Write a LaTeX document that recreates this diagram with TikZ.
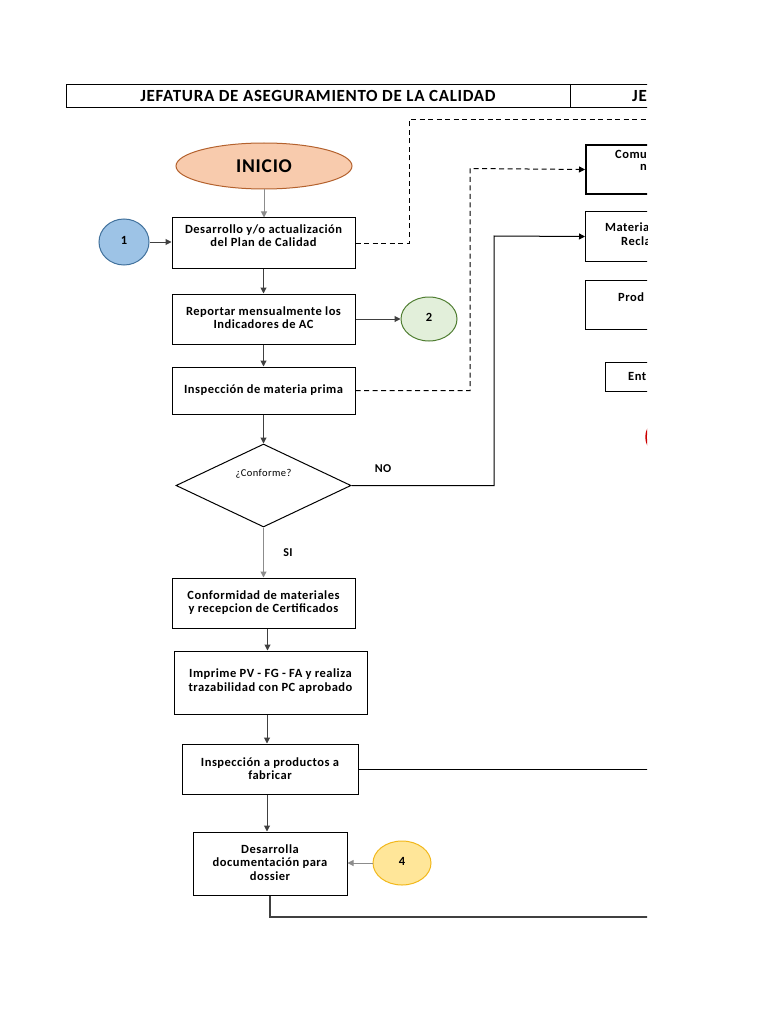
\documentclass[tikz,border=0pt]{standalone}
\usepackage{fontspec}
\setmainfont{Carlito}[LetterSpace=4]
\usetikzlibrary{arrows.meta,shapes.geometric}
\definecolor{salmon}{HTML}{F8CBAD}
\definecolor{salmonb}{HTML}{B4622E}
\definecolor{lblue}{HTML}{9DC3E6}
\definecolor{dblue}{HTML}{41719C}
\definecolor{lgreen}{HTML}{E2EFDA}
\definecolor{dgreen}{HTML}{507E32}
\definecolor{lyellow}{HTML}{FFE699}
\definecolor{dyellow}{HTML}{F2B81C}
\definecolor{conn}{HTML}{404040}
\definecolor{lconn}{HTML}{8C8C8C}
\tikzset{
  box/.style={draw=black, line width=1pt, inner sep=0pt},
  txt/.style={align=center, inner sep=0pt, font=\bfseries\fontsize{12.5}{13.4}\selectfont},
  tip/.style={-{Triangle[length=6pt,width=6pt]}},
  arr/.style={tip, draw=conn, line width=1pt},
  larr/.style={tip, draw=lconn, line width=1pt},
  dsh/.style={draw=black, line width=1pt, dash pattern=on 5pt off 3.5pt},
  circ/.style={ellipse, line width=1pt, inner sep=0pt, font=\bfseries\fontsize{12.5}{14}\selectfont},
}
\begin{document}
\begin{tikzpicture}[x=1pt,y=-1pt]
\useasboundingbox (0,0) rectangle (768,1024);
\begin{scope}
\clip (0,0) rectangle (647,1024);
% header
\node[box, minimum width=634pt, minimum height=23pt, anchor=north west] (hdr) at (66,84) {};
\draw[line width=1pt] (570,84) -- (570,107);
\node[inner sep=0pt, font=\bfseries\fontsize{17}{18}\selectfont] (h1) at (318,96) {JEFATURA DE ASEGURAMIENTO DE LA CALIDAD};
\node[inner sep=0pt, anchor=west, font=\bfseries\fontsize{17}{18}\selectfont] (h2) at (632,96) {JE};

% start
\node[ellipse, draw=salmonb, fill=salmon, line width=1pt, minimum width=176pt, minimum height=46pt, inner sep=0pt, font=\bfseries\fontsize{19.5}{21}\selectfont] (ini) at (264,166) {INICIO};

% left column boxes
\node[box, minimum width=183pt, minimum height=50pt] (b1) at (263.5,243) {};
\node[txt] (t1) at (263.5,235.5) {Desarrollo y/o actualización\\del Plan de Calidad};
\node[box, minimum width=183pt, minimum height=50pt] (b2) at (263.5,319) {};
\node[txt] (t2) at (263.5,317.5) {Reportar mensualmente los\\Indicadores de AC};
\node[box, minimum width=183pt, minimum height=47pt] (b3) at (263.5,390.5) {};
\node[txt] (t3) at (263.5,390) {Inspección de materia prima};

\node[diamond, draw=black, line width=1pt, minimum width=175pt, minimum height=83pt, inner sep=0pt] (dia) at (263.5,485.5) {};
\node[inner sep=0pt, font=\fontsize{10.5}{12}\selectfont] (tc) at (263.5,474) {¿Conforme?};

\node[box, minimum width=183pt, minimum height=50pt] (b4) at (263.5,603) {};
\node[txt] (t4) at (263.5,602.5) {Conformidad de materiales\\y recepcion de Certificados};
\node[box, minimum width=193pt, minimum height=63pt] (b5) at (270.5,682.5) {};
\node[txt] (t5) at (270.5,681) {Imprime PV - FG - FA y realiza\\trazabilidad con PC aprobado};
\node[box, minimum width=176pt, minimum height=50pt] (b6) at (270,769) {};
\node[txt] (t6) at (270,768.5) {Inspección a productos a\\fabricar};
\node[box, minimum width=154pt, minimum height=63pt] (b7) at (270,863.5) {};
\node[txt] (t7) at (270,862.5) {Desarrolla\\documentación para\\dossier};

% connectors circles
\node[circ, draw=dblue, fill=lblue, minimum width=50pt, minimum height=46pt] (c1) at (124,242) {\raisebox{3.5pt}{1}};
\node[circ, draw=dgreen, fill=lgreen, minimum width=56pt, minimum height=44pt] (c2) at (429,319) {\raisebox{4pt}{2}};
\node[circ, draw=dyellow, fill=lyellow, minimum width=58pt, minimum height=44pt] (c4) at (402,863) {\raisebox{4pt}{4}};
\node[ellipse, draw=red!80!black, line width=1.5pt, minimum width=52pt, minimum height=44pt, inner sep=0pt] (c5) at (672,437) {};

% right column boxes (clipped)
\node[box, line width=2pt, minimum width=115pt, minimum height=49pt, anchor=north west] (r1) at (585,144) {};
\node[txt, anchor=west] (rt1a) at (615,154) {Comu};
\node[txt, anchor=west] (rt1b) at (640,167) {n};
\node[box, minimum width=115pt, minimum height=50pt, anchor=north west] (r2) at (585,211) {};
\node[txt, anchor=west] (rt2a) at (605,227) {Materia};
\node[txt, anchor=west] (rt2b) at (621,241) {Recla};
\node[box, minimum width=115pt, minimum height=49pt, anchor=north west] (r3) at (585,280) {};
\node[txt, anchor=west] (rt3) at (618,297) {Prod};
\node[box, minimum width=95pt, minimum height=29pt, anchor=north west] (r4) at (605,362) {};
\node[txt, anchor=west] (rt4) at (628,376) {Ent};

% labels
\node[inner sep=0pt, font=\bfseries\fontsize{12}{13}\selectfont] (lno) at (383,469) {NO};
\node[inner sep=0pt, font=\bfseries\fontsize{12}{13}\selectfont] (lsi) at (288,553) {SI};

% coordinates
\coordinate (k1) at (409,120);
\coordinate (e1) at (700,120);
\coordinate (k2) at (470,168.5);
\coordinate (k3) at (494,236);
\coordinate (e6) at (700,769);
\coordinate (k7) at (270,917);
\coordinate (e7) at (700,917);

% vertical flow
\draw[larr] (ini.south) -- (ini.south |- b1.north);
\draw[arr] (b1.south) -- (b2.north);
\draw[arr] (b2.south) -- (b3.north);
\draw[arr] (b3.south) -- (dia.north);
\draw[larr] (dia.south) -- (b4.north);
\draw[arr] ([xshift=4pt]b4.south) -- ([xshift=4pt]b4.south |- b5.north);
\draw[arr] ([xshift=-3.5pt]b5.south) -- ([xshift=-3.5pt]b5.south |- b6.north);
\draw[arr] ([xshift=-3pt]b6.south) -- ([xshift=-3pt]b6.south |- b7.north);

% side connectors
\draw[arr] (c1.east) -- (b1.west |- c1.east);
\draw[arr] (b2.east) -- (c2.west);
\draw[arr, draw=lconn] (c4.west) -- (b7.east |- c4.west);
\draw[dsh] (b1.east) -| (k1) -- (e1);
\draw[dsh, tip] (b3.east) -| (k2) -- (r1.west);
\draw[arr, draw=black] (dia.east) -| (k3) -- (r2.west);
\draw[line width=1pt, draw=black] (b6.east) -- (e6);
\draw[line width=1.2pt, draw=conn] (b7.south) -- (k7) -- (e7);
\end{scope}
\end{tikzpicture}
\end{document}
